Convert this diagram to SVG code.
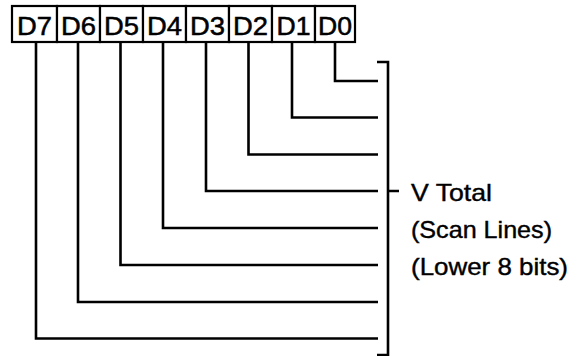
<svg xmlns="http://www.w3.org/2000/svg" width="578" height="356" viewBox="0 0 578 356">
<style>
.box{fill:#fff;stroke:#000;stroke-width:2.2}
.lbl{font-family:"Liberation Sans",Arial,sans-serif;font-size:25px;fill:#000;stroke:#000;stroke-width:0.5;text-anchor:middle}
.txt{font-family:"Liberation Sans",Arial,sans-serif;font-size:24px;fill:#000;stroke:#000;stroke-width:0.4}
.ln{fill:none;stroke:#000;stroke-width:2.6}
</style>
<rect width="578" height="356" fill="#fff"/>
<g id="bits">
<g id="D7"><rect class="box" x="12" y="6" width="45" height="36"/><text class="lbl" x="34.5" y="34.5" textLength="35" lengthAdjust="spacingAndGlyphs">D7</text></g>
<g id="D6"><rect class="box" x="57" y="6" width="43" height="36"/><text class="lbl" x="78.5" y="34.5" textLength="35" lengthAdjust="spacingAndGlyphs">D6</text></g>
<g id="D5"><rect class="box" x="100" y="6" width="43" height="36"/><text class="lbl" x="121.5" y="34.5" textLength="35" lengthAdjust="spacingAndGlyphs">D5</text></g>
<g id="D4"><rect class="box" x="143" y="6" width="43" height="36"/><text class="lbl" x="164.5" y="34.5" textLength="35" lengthAdjust="spacingAndGlyphs">D4</text></g>
<g id="D3"><rect class="box" x="186" y="6" width="43" height="36"/><text class="lbl" x="207.5" y="34.5" textLength="35" lengthAdjust="spacingAndGlyphs">D3</text></g>
<g id="D2"><rect class="box" x="229" y="6" width="43" height="36"/><text class="lbl" x="250.5" y="34.5" textLength="35" lengthAdjust="spacingAndGlyphs">D2</text></g>
<g id="D1"><rect class="box" x="272" y="6" width="43" height="36"/><text class="lbl" x="293.5" y="34.5" textLength="34" lengthAdjust="spacingAndGlyphs">D1</text></g>
<g id="D0"><rect class="box" x="315" y="6" width="40" height="36"/><text class="lbl" x="335" y="34.5" textLength="34" lengthAdjust="spacingAndGlyphs">D0</text></g>
</g>
<g id="connectors">
<path class="ln" d="M335,42 V81 H378"/>
<path class="ln" d="M292,42 V117.5 H378"/>
<path class="ln" d="M248.5,42 V154.5 H378"/>
<path class="ln" d="M206,42 V191 H378"/>
<path class="ln" d="M163,42 V228 H378"/>
<path class="ln" d="M120.5,42 V265 H378"/>
<path class="ln" d="M78,42 V302 H378"/>
<path class="ln" d="M36,42 V338.5 H378"/>
<path class="ln" d="M377,62 H388 V355 H377 M388,191 H399"/>
</g>
<g id="label">
<text class="txt" x="411" y="201" textLength="81" lengthAdjust="spacingAndGlyphs">V Total</text>
<text class="txt" x="411" y="238" textLength="141" lengthAdjust="spacingAndGlyphs">(Scan Lines)</text>
<text class="txt" x="411" y="275" textLength="157" lengthAdjust="spacingAndGlyphs">(Lower 8 bits)</text>
</g>
</svg>
